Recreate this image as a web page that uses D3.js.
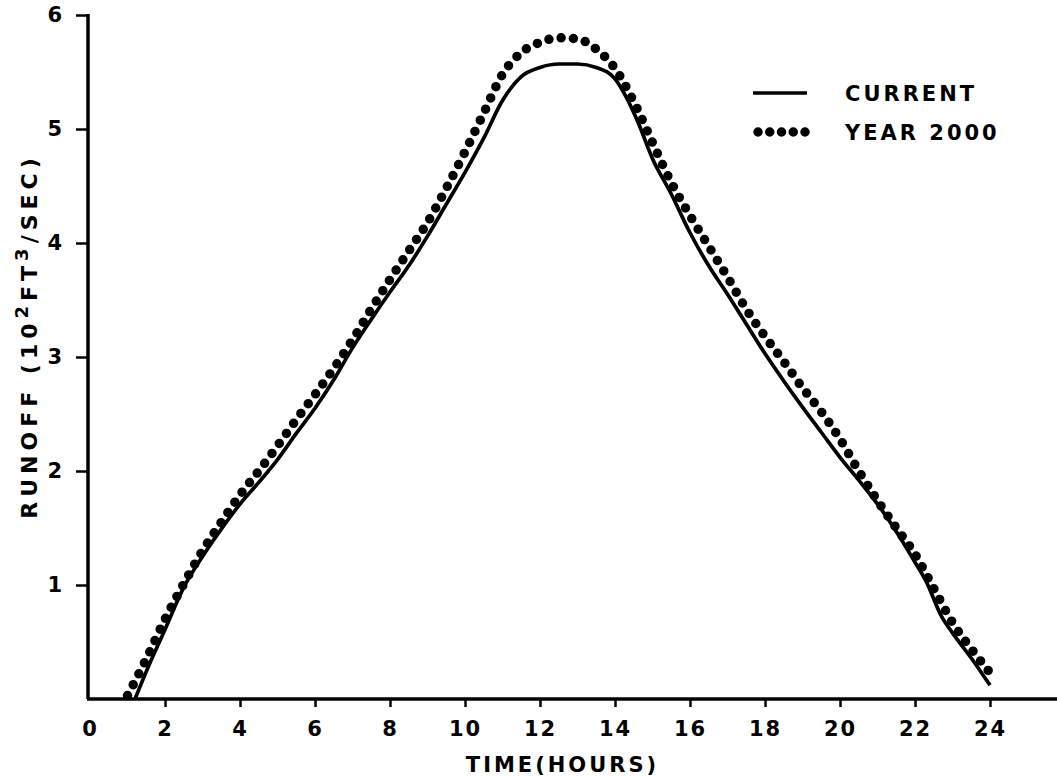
<!DOCTYPE html>
<html>
<head>
<meta charset="utf-8">
<script src="https://cdn.jsdelivr.net/npm/d3@7"></script>
<style>
  html, body { margin: 0; padding: 0; background: #fff; }
  svg { display: block; }
  text { font-family: "DejaVu Sans", sans-serif; font-weight: bold; fill: #000; }
</style>
</head>
<body>
<svg id="chart" width="1057" height="779"></svg>
<script>
// Runoff hydrograph, current conditions (solid line)
const currentHours  = [1.2, 1.5, 2.0, 2.5, 3.0, 3.5, 4.0, 4.5, 5.0, 5.5, 6.0, 6.5, 7.0, 7.5, 8.0, 8.5, 9.0, 9.5, 10.0, 10.5, 11.0, 11.5, 12.0, 12.5, 13.0, 13.5, 14.0, 14.3, 14.6, 15.0, 15.5, 16.0, 16.5, 17.0, 17.5, 18.0, 18.5, 19.0, 19.5, 20.0, 20.5, 21.0, 21.5, 22.0, 22.3, 22.7, 23.0, 23.5, 24.0];
const currentRunoff = [0.0, 0.24, 0.61, 0.98, 1.25, 1.49, 1.71, 1.90, 2.10, 2.33, 2.55, 2.80, 3.08, 3.33, 3.57, 3.80, 4.06, 4.34, 4.62, 4.92, 5.25, 5.46, 5.54, 5.57, 5.57, 5.54, 5.44, 5.28, 5.07, 4.74, 4.43, 4.09, 3.80, 3.55, 3.29, 3.03, 2.79, 2.56, 2.34, 2.12, 1.92, 1.71, 1.47, 1.20, 1.03, 0.73, 0.58, 0.36, 0.12];

// Runoff hydrograph, year 2000 development (dotted line)
const year2000Hours  = [1.0, 1.5, 2.0, 2.5, 3.0, 3.5, 4.0, 4.5, 5.0, 5.5, 6.0, 6.5, 7.0, 7.5, 8.0, 8.5, 9.0, 9.5, 10.0, 10.5, 11.0, 11.5, 12.0, 12.5, 13.0, 13.5, 14.0, 14.5, 15.0, 15.5, 16.0, 16.5, 17.0, 17.5, 18.0, 18.5, 19.0, 19.5, 20.0, 20.5, 21.0, 21.5, 22.0, 22.5, 23.0, 23.5, 24.0];
const year2000Runoff = [0.03, 0.35, 0.70, 1.01, 1.30, 1.55, 1.79, 2.00, 2.22, 2.45, 2.67, 2.90, 3.15, 3.42, 3.68, 3.93, 4.18, 4.48, 4.80, 5.14, 5.48, 5.67, 5.76, 5.80, 5.79, 5.70, 5.53, 5.24, 4.88, 4.53, 4.24, 3.97, 3.70, 3.42, 3.18, 2.96, 2.73, 2.52, 2.28, 2.00, 1.74, 1.50, 1.27, 0.97, 0.67, 0.44, 0.23];

const xTickValues = [0, 2, 4, 6, 8, 10, 12, 14, 16, 18, 20, 22, 24];
const yTickValues = [1, 2, 3, 4, 5, 6];
const legendLabels = ["CURRENT", "YEAR 2000"];

const svg = d3.select("#chart");
const x = d3.scaleLinear().domain([0, 24]).range([90, 990]);
const y = d3.scaleLinear().domain([0, 6]).range([699, 15]);

const dotGap = 12.3;   // spacing of the plotter dots along the dotted curve
const dotSize = 9.5;

// ---- axes ----
const xAxis = d3.axisBottom(x).tickValues(xTickValues).tickSize(8).tickSizeOuter(0).tickPadding(14).tickFormat(d3.format("d"));
const gx = svg.append("g").attr("transform", `translate(0,${y(0)})`).call(xAxis);
gx.select(".domain").remove();
gx.selectAll(".tick line").attr("stroke", "#000").attr("stroke-width", 2.5)
  .filter(d => d === 0).remove();
gx.selectAll(".tick text").attr("font-size", 21).attr("letter-spacing", 2)
  .attr("font-family", "DejaVu Sans").attr("font-weight", "bold");

const yAxis = d3.axisLeft(y).tickValues(yTickValues).tickSize(12).tickSizeOuter(0).tickPadding(14).tickFormat(d3.format("d"));
const gy = svg.append("g").attr("transform", `translate(${x(0) - 2},0)`).call(yAxis);
gy.select(".domain").remove();
gy.selectAll(".tick line").attr("stroke", "#000").attr("stroke-width", 2.5);
gy.selectAll(".tick text").attr("font-size", 21)
  .attr("font-family", "DejaVu Sans").attr("font-weight", "bold");

// axis lines
svg.append("line")
  .attr("x1", x(0) - 3).attr("x2", x(25.8))
  .attr("y1", y(0)).attr("y2", y(0))
  .attr("stroke", "#000").attr("stroke-width", 3.5);
svg.append("line")
  .attr("x1", x(0) - 2).attr("x2", x(0) - 2)
  .attr("y1", y(0)).attr("y2", y(6) - 1)
  .attr("stroke", "#000").attr("stroke-width", 3.5);

// ---- axis titles ----
svg.append("text")
  .attr("x", x(12.6)).attr("y", 772)
  .attr("text-anchor", "middle")
  .attr("font-size", 21).attr("letter-spacing", 3)
  .text("TIME(HOURS)");

const yTitle = svg.append("text")
  .attr("transform", `translate(37,336) rotate(-90)`)
  .attr("text-anchor", "middle")
  .attr("font-size", 22).attr("letter-spacing", 5);
yTitle.append("tspan").text("RUNOFF (10");
yTitle.append("tspan").attr("dy", -9).attr("font-size", 18).text("2");
yTitle.append("tspan").attr("dy", 9).text("FT");
yTitle.append("tspan").attr("dy", -9).attr("font-size", 18).text("3");
yTitle.append("tspan").attr("dy", 9).text("/SEC)");

// ---- series ----
const line = d3.line().curve(d3.curveMonotoneX);

const currentPts = currentHours.map((h, i) => [x(h), y(currentRunoff[i])]);
const year2000Pts = year2000Hours.map((h, i) => [x(h), y(year2000Runoff[i])]);

svg.append("path")
  .attr("d", line(currentPts))
  .attr("fill", "none").attr("stroke", "#000")
  .attr("stroke-width", 3.7).attr("stroke-linejoin", "round");

svg.append("path")
  .attr("d", line(year2000Pts))
  .attr("fill", "none").attr("stroke", "#000")
  .attr("stroke-width", dotSize).attr("stroke-linecap", "round")
  .attr("stroke-dasharray", `0 ${dotGap}`);

// ---- legend ----
const legend = svg.append("g").attr("transform", "translate(753,0)");
legend.append("line")
  .attr("x1", 0).attr("x2", 54).attr("y1", 93).attr("y2", 93)
  .attr("stroke", "#000").attr("stroke-width", 3.5);
legend.append("path")
  .attr("d", "M5,132H53")
  .attr("fill", "none").attr("stroke", "#000")
  .attr("stroke-width", dotSize).attr("stroke-linecap", "round")
  .attr("stroke-dasharray", `0 ${47 / 4}`);
legend.selectAll("text.lab").data(legendLabels).join("text")
  .attr("class", "lab")
  .attr("x", 92).attr("y", (d, i) => 101 + i * 39)
  .attr("font-size", 21).attr("letter-spacing", 3)
  .text(d => d);
</script>
</body>
</html>
